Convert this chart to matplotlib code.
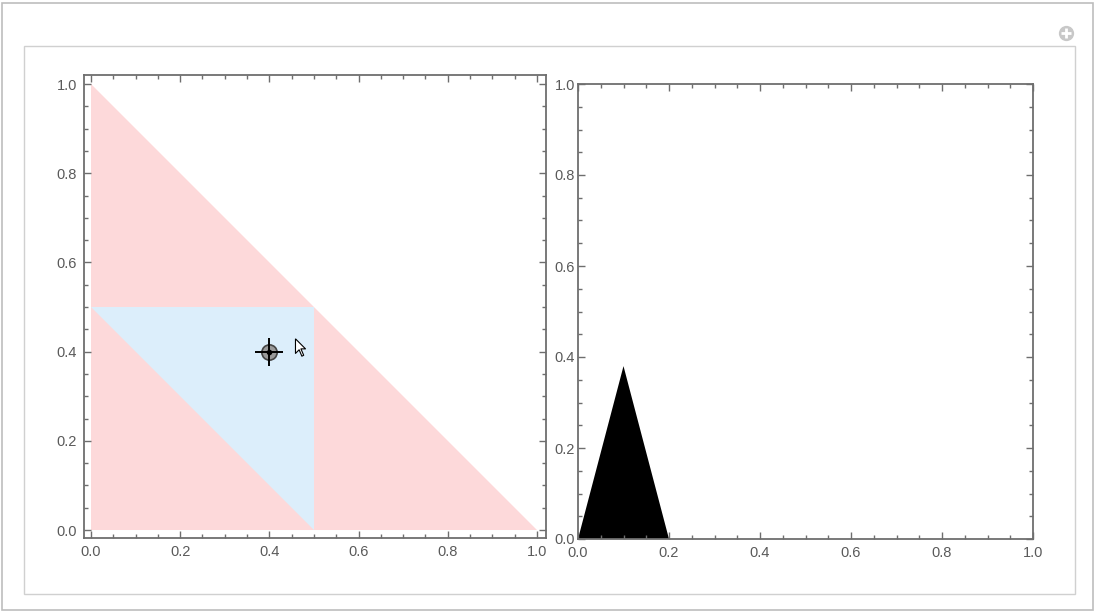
import matplotlib.pyplot as plt
import numpy as np
from matplotlib.patches import Polygon, Rectangle
from matplotlib.path import Path

# region data
outer_tri = [(0.0, 0.0), (1.0, 0.0), (0.0, 1.0)]
inner_tri = [(0.0, 0.5), (0.5, 0.5), (0.5, 0.0)]
locator = (0.4, 0.4)
black_tri = [(0.0, 0.0), (0.2, 0.0), (0.1, 0.38)]
ticks = [0.0, 0.2, 0.4, 0.6, 0.8, 1.0]
tick_labels = ["0.0", "0.2", "0.4", "0.6", "0.8", "1.0"]

plt.rcParams['font.family'] = ['Liberation Sans', 'DejaVu Sans']

W, H = 1096, 612
fig = plt.figure(figsize=(W / 100, H / 100), dpi=100)
fig.patch.set_facecolor("white")


def px_axes(l, t, r, b):
    return fig.add_axes([l / W, 1 - b / H, (r - l) / W, (b - t) / H])


# outer frames (notebook cell look)
fig.patches.append(Rectangle((2 / W, 2 / H), 1091 / W, 607 / H, transform=fig.transFigure,
                             fill=False, ec="#bdbdbd", lw=1.2))
fig.patches.append(Rectangle((24 / W, 18 / H), 1051 / W, 548 / H, transform=fig.transFigure,
                             fill=False, ec="#d0d0d0", lw=1.0))
# little "+" button in the corner
fig.lines.append(plt.Line2D([1066 / W], [1 - 33 / H], transform=fig.transFigure,
                            marker="o", ms=11, mfc="#c8c8c8", mec="none"))
fig.lines.append(plt.Line2D([1066 / W], [1 - 33 / H], transform=fig.transFigure,
                            marker="+", ms=6.5, mec="white", mew=2))


def style(ax):
    for s in ax.spines.values():
        s.set_color("#6e6e6e")
        s.set_linewidth(1.3)
    ax.set_xticks(ticks)
    ax.set_yticks(ticks)
    ax.set_xticklabels(tick_labels)
    ax.set_yticklabels(tick_labels)
    ax.set_xticks(np.arange(0, 1.0001, 0.05), minor=True)
    ax.set_yticks(np.arange(0, 1.0001, 0.05), minor=True)
    ax.tick_params(which="both", direction="in", top=True, right=True,
                   color="#6e6e6e", width=1.0, labelsize=10.5, labelcolor="#5a5a5a")
    ax.tick_params(which="major", length=5, pad=5)
    ax.tick_params(which="minor", length=3)


# left panel
ax1 = px_axes(84, 75, 546, 538)
ax1.add_patch(Polygon(outer_tri, closed=True, fc="#fdd9da", ec="none"))
ax1.add_patch(Polygon(inner_tri, closed=True, fc="#dceefb", ec="none"))
ax1.plot(*locator, "o", ms=11, mfc="#9a9a9a", mec="#444444", mew=1.2)
ax1.plot(*locator, "+", ms=20, mec="black", mew=1.4)
ax1.plot(*locator, "o", ms=3, color="black")
# mouse pointer
cursor = Path(np.array([(0, 0), (0, -16), (4, -12), (7, -19), (9, -18), (6, -11),
                        (11, -11), (0, 0)]) - np.array([5.5, -9.5]))
ax1.plot(0.469, 0.41, marker=cursor, ms=12.5, mfc="white", mec="black", mew=0.8)
ax1.set_xlim(-0.0157, 1.0202)
ax1.set_ylim(-0.0179, 1.0202)
style(ax1)

# right panel
ax2 = px_axes(578, 84, 1033, 539)
ax2.add_patch(Polygon(black_tri, closed=True, fc="black", ec="none"))
ax2.set_xlim(0, 1)
ax2.set_ylim(0, 1)
style(ax2)
ax2.tick_params(axis="y", which="major", pad=2)

fig.savefig("out.png", dpi=100)
